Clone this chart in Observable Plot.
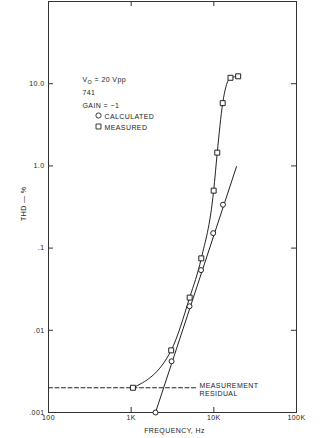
<!DOCTYPE html>
<html><head><meta charset="utf-8">
<script src="https://cdn.jsdelivr.net/npm/d3@7"></script>
<script src="https://cdn.jsdelivr.net/npm/@observablehq/plot@0.6"></script>
<style>body{margin:0;background:#fff;} svg{display:block;}</style>
</head><body><div id="chart"></div>
<script>
// ---- data ----
const measuredFreq = [1050, 3050, 5100, 7050, 9950, 11000, 12800, 15900, 19700];
const measuredThd  = [0.002, 0.0057, 0.025, 0.075, 0.50, 1.45, 5.8, 11.8, 12.3];
const calcFreq = [1970, 3080, 5080, 7000, 9820, 12900];
const calcThd  = [0.001, 0.0042, 0.0196, 0.054, 0.152, 0.337];
const calcLineFreq = [1970, 18800];   // extent of the calculated straight line
const calcLineThd  = [0.001, 0.98];
const residualFreq = [100, 6000];
const residualThd  = [0.002, 0.002];
const xTicks = [100, 1000, 10000, 100000];
const xTickLabels = ["100", "1K", "10K", "100K"];
const yTicks = [0.001, 0.01, 0.1, 1, 10];
const yTickLabels = [".001", ".01", ".1", "1.0", "10.0"];
const legendLines = ["VO = 20 Vpp", "741", "GAIN = −1"];
const seriesNames = ["CALCULATED", "MEASURED"];
const residualLabel = ["MEASUREMENT", "RESIDUAL"];

// ---- layout ----
const W = 320, H = 438, mL = 48, mR = 24, mT = 1, mB = 26;
const innerW = W - mL - mR, innerH = H - mT - mB;
const ink = "#222";
const font = "'Liberation Sans', Arial, Helvetica, sans-serif";

const measured = measuredFreq.map((f, i) => ({f, thd: measuredThd[i]}));
const calc = calcFreq.map((f, i) => ({f, thd: calcThd[i]}));
const calcLine = calcLineFreq.map((f, i) => ({f, thd: calcLineThd[i]}));
const residual = residualFreq.map((f, i) => ({f, thd: residualThd[i]}));

const legendY = [77, 90, 103];
const legendMarks = legendLines.map((t, i) =>
  Plot.text([t], {frameAnchor: "top-left", dx: 34, dy: legendY[i] - mT, textAnchor: "start", fill: ink, fontSize: 7}));

const chart = Plot.plot({
  width: W, height: H,
  marginLeft: mL, marginRight: mR, marginTop: mT, marginBottom: mB,
  style: {fontFamily: font, fontSize: "7px", color: ink, background: "#fff", letterSpacing: "0.4px"},
  x: {type: "log", domain: [100, 100000]},
  y: {type: "log", domain: [0.001, 100]},
  marks: [
    Plot.frame({stroke: "#333", strokeWidth: 1}),
    // inward ticks on all four sides
    Plot.tickX(xTicks, {x: d => d, insetTop: innerH - 5, stroke: "#333"}),
    Plot.tickX(xTicks, {x: d => d, insetBottom: innerH - 5, stroke: "#333"}),
    Plot.tickY(yTicks, {y: d => d, insetRight: innerW - 5, stroke: "#333"}),
    Plot.tickY(yTicks, {y: d => d, insetLeft: innerW - 5, stroke: "#333"}),
    Plot.axisX(xTicks, {tickSize: 0, tickPadding: 3, tickFormat: d => xTickLabels[xTicks.indexOf(d)], label: null, fill: ink}),
    Plot.axisY(yTicks, {tickSize: 0, tickPadding: 4, tickFormat: d => yTickLabels[yTicks.indexOf(d)], label: null, fill: ink}),
    Plot.text(["FREQUENCY, Hz"], {frameAnchor: "bottom", dx: 2, dy: 20, fill: ink, fontSize: 7}),
    Plot.text(["THD — %"], {frameAnchor: "left", dx: -25, dy: 14, rotate: -90, fill: ink, fontSize: 7}),
    // measurement residual
    Plot.line(residual, {x: "f", y: "thd", stroke: ink, strokeWidth: 1, strokeDasharray: "4,2.5"}),
    Plot.text([residualLabel[0]], {frameAnchor: "top-left", dx: 151, dy: 382, textAnchor: "start", fill: ink, fontSize: 7}),
    Plot.text([residualLabel[1]], {frameAnchor: "top-left", dx: 151, dy: 390, textAnchor: "start", fill: ink, fontSize: 7}),
    // curves
    Plot.line(calcLine, {x: "f", y: "thd", stroke: ink, strokeWidth: 1}),
    Plot.line(measured, {x: "f", y: "thd", stroke: ink, strokeWidth: 1, curve: "monotone-x"}),
    Plot.dot(calc, {x: "f", y: "thd", r: 2.5, stroke: ink, fill: "#fff", strokeWidth: 1}),
    Plot.dot(measured, {x: "f", y: "thd", r: 2.8, symbol: "square", stroke: ink, fill: "#fff", strokeWidth: 1}),
    // legend
    ...legendMarks,
    Plot.dot([0], {x: null, y: null, frameAnchor: "top-left", dx: 50, dy: 114, r: 2.6, stroke: ink, fill: "#fff", strokeWidth: 0.9}),
    Plot.dot([0], {x: null, y: null, frameAnchor: "top-left", dx: 50, dy: 125, r: 2.8, symbol: "square", stroke: ink, fill: "#fff", strokeWidth: 0.9}),
    Plot.text([seriesNames[0]], {frameAnchor: "top-left", dx: 56, dy: 113, textAnchor: "start", fill: ink, fontSize: 7}),
    Plot.text([seriesNames[1]], {frameAnchor: "top-left", dx: 56, dy: 124, textAnchor: "start", fill: ink, fontSize: 7})
  ]
});
document.getElementById("chart").appendChild(chart);

// subscript O in V_O
d3.select(chart).selectAll("text").each(function() {
  if (this.textContent === legendLines[0]) {
    const s = d3.select(this);
    s.text("");
    s.append("tspan").text("V");
    s.append("tspan").attr("dy", "2").attr("font-size", "5.5").text("O");
    s.append("tspan").attr("dy", "-2").text(" = 20 Vpp");
  }
});
</script>
</body></html>
